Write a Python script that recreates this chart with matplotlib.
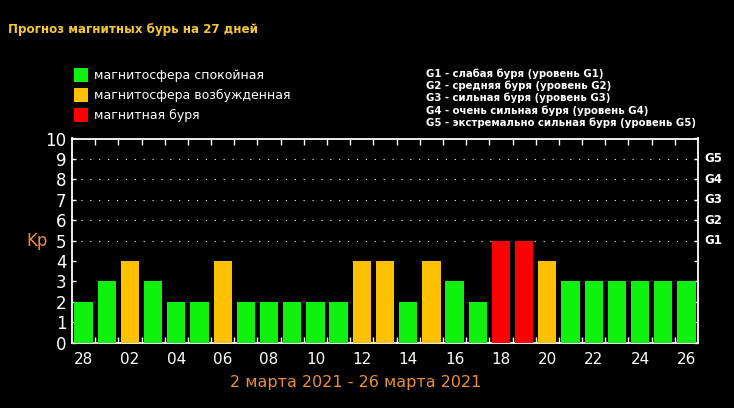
import matplotlib
matplotlib.use("Agg")
import matplotlib.pyplot as plt
from matplotlib.patches import Rectangle

days = ["28", "01", "02", "03", "04", "05", "06", "07", "08", "09", "10", "11", "12", "13",
        "14", "15", "16", "17", "18", "19", "20", "21", "22", "23", "24", "25", "26"]
kp = [2, 3, 4, 3, 2, 2, 4, 2, 2, 2, 2, 2, 4, 4, 2, 4, 3, 2, 5, 5, 4, 3, 3, 3, 3, 3, 3]
g_labels = ["G1", "G2", "G3", "G4", "G5"]
g_levels = [5, 6, 7, 8, 9]
legend_labels = ["магнитосфера спокойная", "магнитосфера возбужденная", "магнитная буря"]
g_descr = ["G1 - слабая буря (уровень G1)",
           "G2 - средняя буря (уровень G2)",
           "G3 - сильная буря (уровень G3)",
           "G4 - очень сильная буря (уровень G4)",
           "G5 - экстремально сильная буря (уровень G5)"]
title = "Прогноз магнитных бурь на 27 дней"
period = "2 марта 2021 - 26 марта 2021"

GREEN = "#0ef20e"
ORANGE = "#ffc000"
RED = "#ff0000"
TITLE_C = "#f2c73a"
ORANGE_T = "#e8903c"


def color_for(v):
    if v >= 5:
        return RED
    if v >= 4:
        return ORANGE
    return GREEN


plt.rcParams['font.family'] = ['DejaVu Sans']
fig = plt.figure(figsize=(7.34, 4.08), dpi=100, facecolor="black")
ax = fig.add_axes([72 / 734, 1 - 342.7 / 408, 626 / 734, (342.7 - 138.5) / 408])
ax.set_facecolor("black")

x = list(range(len(days)))
ax.bar(x, kp, width=0.79, color=[color_for(v) for v in kp], zorder=3)
ax.set_xlim(-0.5, len(days) - 0.5)
ax.set_ylim(0, 10)

for s in ax.spines.values():
    s.set_color("white")
    s.set_linewidth(1.3)

# y grid for 5..9
for lv in g_levels:
    ax.axhline(lv, color="white", lw=0.8, dashes=(1, 7), zorder=1)

ax.set_yticks(range(11))
ax.set_yticklabels([str(i) for i in range(11)], color="white", fontsize=12)
ax.tick_params(axis="y", direction="in", left=True, right=True, length=3,
               color="white", width=1, pad=4)

ax.set_xticks(x[::2])
ax.set_xticklabels(days[::2], color="white", fontsize=11)
ax.set_xticks([i + 0.5 for i in x[:-1]], minor=True)
ax.tick_params(axis="x", which="major", length=0, pad=7)
ax.tick_params(axis="x", which="minor", direction="in", top=True, bottom=True,
               length=4, color="white", width=1)

for lbl, lv in zip(g_labels, g_levels):
    ax.text(1.01, lv, lbl, transform=ax.get_yaxis_transform(), color="white",
            fontsize=8.5, fontweight="bold", va="center", ha="left")

fig.text(26 / 734, 1 - 241 / 408, "Kp", color=ORANGE_T, fontsize=12, va="center", ha="left")
fig.text(356 / 734, 1 - 383 / 408, period, color=ORANGE_T, fontsize=11.5, va="center", ha="center")
fig.text(8 / 734, 1 - 30 / 408, title, color=TITLE_C, fontsize=8.6, fontweight="bold",
         va="center", ha="left")

leg_colors = [GREEN, ORANGE, RED]
for i, (lab, c) in enumerate(zip(legend_labels, leg_colors)):
    yc = 75 + 20 * i
    fig.patches.append(Rectangle((74 / 734, 1 - (yc + 7) / 408), 14 / 734, 14 / 408,
                                 transform=fig.transFigure, facecolor=c, edgecolor="none"))
    fig.text(94 / 734, 1 - yc / 408, lab, color="white", fontsize=9.0, va="center", ha="left")

for i, t in enumerate(g_descr):
    yc = 74 + 12.1 * i
    fig.text(426 / 734, 1 - yc / 408, t, color="white", fontsize=7.3, fontweight="bold",
             va="center", ha="left")

fig.savefig("out.png", dpi=100, facecolor="black")
